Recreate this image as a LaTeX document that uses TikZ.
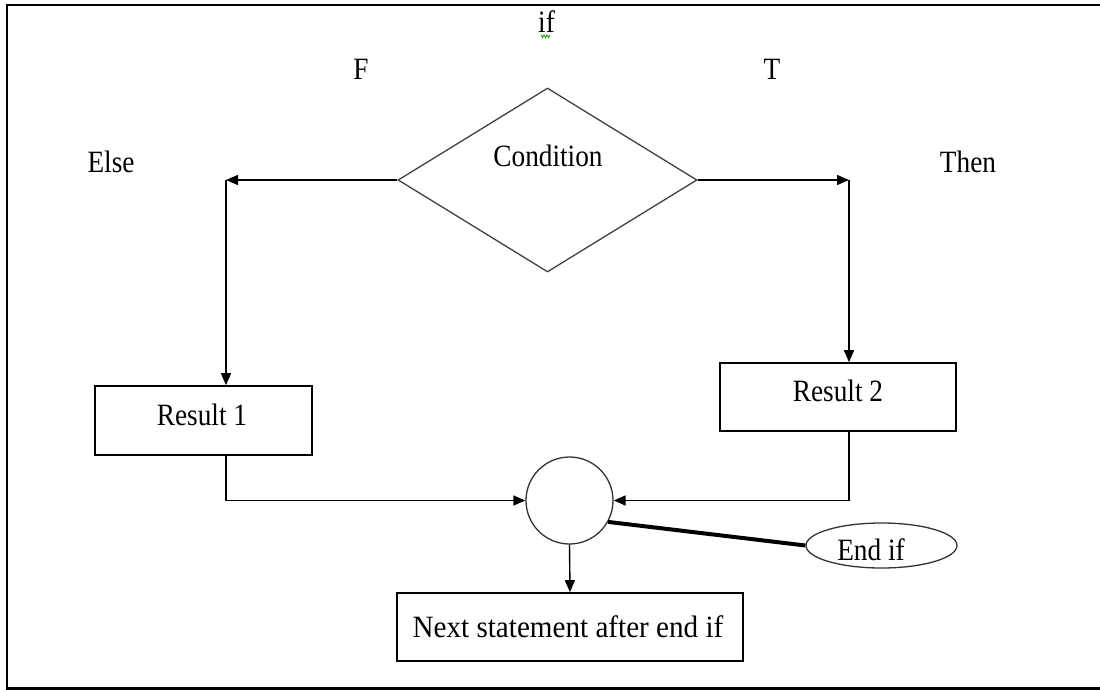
\documentclass[tikz,border=0pt]{standalone}
\usepackage{fontspec}
\setmainfont[FakeStretch=0.88]{Liberation Serif}
\newfontfamily\widerserif[FakeStretch=0.94]{Liberation Serif}
\usetikzlibrary{arrows.meta,shapes.geometric}

\begin{document}
\begin{tikzpicture}[x=1pt,y=-1pt,
  lbl/.style={anchor=base,inner sep=0pt,font=\fontsize{31}{36}\selectfont},
  box/.style={draw=black,line width=1.6pt,inner sep=0pt},
  conn/.style={line width=1.4pt,-{Triangle[length=12pt,width=10pt]}},
  thin/.style={line width=1.3pt}]
\useasboundingbox (0,0) rectangle (1100,690);
% frame (right side lies outside the picture)
\draw[line width=2.2pt] (1104,5) -- (7,5) -- (7,688.5) -- (1104,688.5);

% shapes
\node[diamond,draw=black!75,line width=1.3pt,minimum width=299pt,minimum height=184pt,inner sep=0pt] (d) at (547.5,180) {};
\node[box,minimum width=217pt,minimum height=69pt] (r1) at (203.5,420.5) {};
\node[box,minimum width=236pt,minimum height=68pt] (r2) at (838,397) {};
\node[circle,draw=black!80,line width=1.3pt,minimum size=87pt,inner sep=0pt] (c) at (569.5,500.5) {};
\node[ellipse,draw=black!80,line width=1.3pt,minimum width=151pt,minimum height=45pt,inner sep=0pt] (e) at (881.5,545.5) {};
\node[box,minimum width=346pt,minimum height=68pt] (nx) at (570,627) {};

% texts
\node[lbl] (tif) at (546.5,33) {if};
\draw[green!60!black,line width=0.8pt] (541,35) -- (542.5,37.5) -- (544,35) -- (545.5,37.5) -- (547,35) -- (548.5,37.5) -- (550,35);
\node[lbl] (tF) at (361,80) {F};
\node[lbl] (tT) at (772,80) {T};
\node[lbl] (tElse) at (111,172) {Else};
\node[lbl] (tThen) at (968,172) {Then};
\node[lbl] (tCond) at (548,167) {Condition};
\node[lbl] (tR1) at (202,425) {Result 1};
\node[lbl] (tR2) at (838,401) {Result 2};
\node[lbl] (tEnd) at (871,560) {End if};
\node[lbl] (tNext) at (568,637) {\widerserif Next statement after end if};

% connectors
\coordinate (cL) at (226,180);
\coordinate (cR) at (849,180);
\draw[conn] (d.west) -- (cL);
\draw[conn] (cL) -- (cL |- r1.north);
\draw[conn] (d.east) -- (cR);
\draw[conn] (cR) -- (cR |- r2.north);
\draw[conn] (cL |- r1.south) |- (c.west);
\draw[conn] (cR |- r2.south) |- (c.east);
\draw[line width=4pt] (c.-29) -- (e.west);
\draw[conn] (c.south) -- (nx.north);
\end{tikzpicture}
\end{document}
